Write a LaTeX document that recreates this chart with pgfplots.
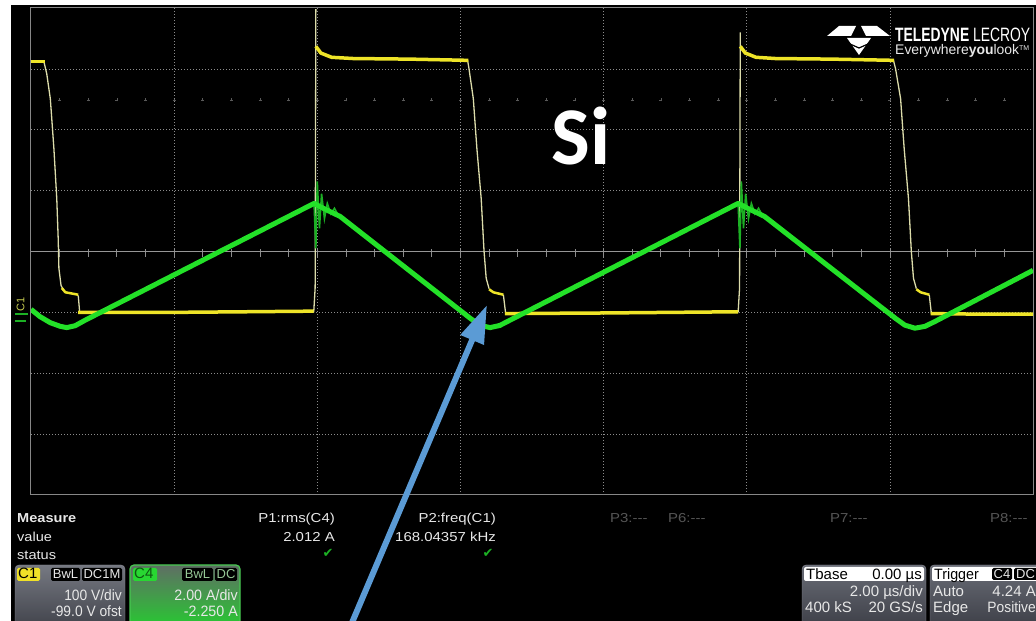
\documentclass[border=0pt]{standalone}
\usepackage{pgfplots}
\pgfplotsset{compat=1.18}
\usepackage{fontspec}
\setmainfont{Liberation Sans}
\newfontfamily\carlito{Carlito}
\newfontfamily\dejavu{DejaVu Sans}
\usetikzlibrary{arrows.meta}
\usepackage{graphicx}
\definecolor{scyel}{RGB}{238,228,40}
\definecolor{scyelpale}{RGB}{220,220,170}
\definecolor{scgrn}{RGB}{35,225,40}
\definecolor{scgrndk}{RGB}{28,176,36}
\definecolor{gridc}{RGB}{140,140,140}
\definecolor{gridd}{RGB}{90,90,90}
\definecolor{borderc}{RGB}{135,135,135}
\definecolor{centc}{RGB}{150,150,150}
\definecolor{arrowblue}{RGB}{91,155,213}
\definecolor{txt}{RGB}{232,232,232}
\definecolor{dimtxt}{RGB}{85,85,85}
\definecolor{markc}{RGB}{200,205,80}
\definecolor{boxtop}{RGB}{118,121,130}
\definecolor{boxbot}{RGB}{66,68,76}
\definecolor{boxedge}{RGB}{140,140,150}
\definecolor{gboxtop}{RGB}{95,110,100}
\definecolor{gboxbot}{RGB}{40,200,50}
\definecolor{gboxedge}{RGB}{70,200,80}
\definecolor{c1lab}{RGB}{240,225,40}
\definecolor{c4lab}{RGB}{40,215,50}
\definecolor{c4txt}{RGB}{150,200,150}
\definecolor{tboxtop}{RGB}{105,108,118}
\definecolor{tboxbot}{RGB}{62,64,72}
\newcommand\mt{\fontsize{13}{13}\selectfont}
\newcommand\bt{\fontsize{15}{15}\selectfont}
\begin{document}
\begin{tikzpicture}
\useasboundingbox (0,0) rectangle (1036pt,621pt);
\clip (0,0) rectangle (1036pt,621pt);
\fill[white] (0,0) rectangle (1036pt,621pt);
\fill[black] (11pt,-1pt) rectangle (1037pt,616pt);
% minor ticks on centre line and on upper row
\foreach \i in {1,...,34} {
  \draw[gridc, line width=0.8pt] ({31pt+\i*28.63pt},364pt) -- ({31pt+\i*28.63pt},372pt);
  \draw[gridd, line width=0.7pt] ({29.5pt+\i*28.63pt},521pt) -- ({32.5pt+\i*28.63pt},521pt);
  \draw[gridd, line width=0.7pt] ({31pt+\i*28.63pt},519.5pt) -- ({31pt+\i*28.63pt},522.5pt);
}
\begin{axis}[at={(31pt,126pt)},anchor=south west,width=1002pt,height=487pt,scale only axis,
  xmin=0,xmax=14,ymin=-4,ymax=4,
  xtick={2,4,...,12}, ytick={-3,-2,...,3}, xticklabels={}, yticklabels={}, major tick length=0pt,
  grid=major, major grid style={draw=gridc, line width=0.7pt, dash pattern=on 1pt off 2pt},
  axis line style={draw=borderc, line width=1pt}, clip=true]
\addplot[centc, line width=1pt] coordinates {(0,0) (14,0)};
% yellow (C1) edges, thin and pale
\addplot[scyelpale, line width=1.3pt] coordinates {(0.18,3.12) (0.22,2.92) (0.27,2.51) (0.32,1.69) (0.36,0.87) (0.38,0.21) (0.39,-0.28) (0.42,-0.56) (0.46,-0.64)};
\addplot[scyelpale, line width=1.3pt] coordinates {(0.66,-0.72) (0.68,-1.0)};
\addplot[scyelpale, line width=1.3pt] coordinates {(3.95,-1.0) (3.97,-0.6) (3.98,3.98)};
\addplot[scyelpale, line width=1.3pt] coordinates {(6.10,3.14) (6.12,3.0) (6.18,2.51) (6.23,1.69) (6.29,0.87) (6.33,0) (6.36,-0.44) (6.40,-0.61)};
\addplot[scyelpale, line width=1.3pt] coordinates {(6.60,-0.71) (6.63,-1.0)};
\addplot[scyelpale, line width=1.3pt] coordinates {(9.88,-1.0) (9.90,-0.6) (9.91,3.6)};
\addplot[scyelpale, line width=1.3pt] coordinates {(12.05,3.14) (12.08,3.0) (12.15,2.51) (12.20,1.69) (12.26,0.87) (12.30,0) (12.33,-0.44) (12.37,-0.61)};
\addplot[scyelpale, line width=1.3pt] coordinates {(12.55,-0.71) (12.58,-1.02)};
% yellow levels
\addplot[scyel, line width=3.5pt] coordinates {(0,3.12) (0.19,3.12)};
\addplot[scyel, line width=2.5pt] coordinates {(0.43,-0.60) (0.48,-0.67) (0.66,-0.71)};
\addplot[scyel, line width=3.5pt] coordinates {(0.66,-1.0) (2.0,-1.0) (3.0,-0.99) (3.95,-0.98)};
\addplot[scyel, line width=3.5pt] coordinates {(3.98,3.37) (4.05,3.26) (4.2,3.19) (4.5,3.17) (5.3,3.16) (6.11,3.14)};
\addplot[scyel, line width=2.5pt] coordinates {(6.40,-0.62) (6.46,-0.67) (6.60,-0.71)};
\addplot[scyel, line width=3.5pt] coordinates {(6.62,-1.02) (8.0,-1.01) (9.88,-0.99)};
\addplot[scyel, line width=3.5pt] coordinates {(9.91,3.37) (9.98,3.26) (10.13,3.19) (10.4,3.17) (11.2,3.16) (12.06,3.14)};
\addplot[scyel, line width=2.5pt] coordinates {(12.37,-0.62) (12.43,-0.67) (12.55,-0.71)};
\addplot[scyel, line width=3.5pt] coordinates {(12.57,-1.02) (13.3,-1.03) (14,-1.03)};
% green (C4) ringing
\addplot[scgrndk, line width=1.6pt] coordinates {(3.955,0.79) (3.98,0.05) (4.00,1.15) (4.03,0.38) (4.06,0.95) (4.10,0.54) (4.14,0.79) (4.19,0.62) (4.24,0.71) (4.30,0.58)};
\addplot[scgrndk, line width=1.6pt] coordinates {(9.88,0.79) (9.905,0.05) (9.925,1.15) (9.955,0.38) (9.985,0.95) (10.025,0.54) (10.065,0.79) (10.115,0.62) (10.165,0.71) (10.225,0.58)};
% green main
\addplot[scgrn, line width=5pt, line join=round] coordinates {
(0,-0.95) (0.126,-1.07) (0.27,-1.17) (0.41,-1.23) (0.50,-1.25) (0.615,-1.22) (0.755,-1.13)
(3.955,0.79) (4.10,0.70) (4.32,0.575)
(6.14,-1.10) (6.28,-1.215) (6.415,-1.25) (6.55,-1.215) (6.69,-1.13)
(9.88,0.79) (10.03,0.70) (10.25,0.575)
(12.08,-1.10) (12.21,-1.21) (12.35,-1.26) (12.49,-1.23) (12.63,-1.15)
(14,-0.31)};
\end{axis}
% channel marker
\node[rotate=90, font=\fontsize{11}{11}\selectfont, text=markc, inner sep=0] at (20.5pt,317pt) {C1};
\draw[scgrndk, line width=1.6pt] (15pt,307pt) -- (28pt,307pt);
\draw[scgrndk, line width=1.6pt] (15pt,300pt) -- (26pt,300pt);
% Si
\node[anchor=base, white, inner sep=0, font=\carlito\bfseries\fontsize{82}{82}\selectfont] at (581pt,456pt) {Si};
% logo
\fill[white] (827pt,585pt) -- (839pt,595pt) -- (856pt,595pt) -- (851pt,585pt) -- cycle;
\fill[white] (861pt,595pt) -- (877pt,595pt) -- (890pt,585pt) -- (866pt,585pt) -- cycle;
\fill[white] (847pt,583pt) -- (871pt,583pt) -- (859pt,566pt) -- cycle;
\draw[black, line width=1.2pt] (850pt,577pt) -- (859pt,573pt) -- (868pt,577pt);
\node[anchor=south west, inner sep=0, white] at (895pt,579pt) {\resizebox{135pt}{13.5pt}{\textbf{TELEDYNE} LECROY}};
\node[anchor=base west, inner sep=0, txt] at (895pt,566pt) {\resizebox{134pt}{!}{Everywhere\textbf{you}look{\fontsize{5}{5}\selectfont\raisebox{3pt}{TM}}}};
% measure area
\node[anchor=base west, inner sep=0, txt, font=\mt\bfseries] at (17pt,98pt) {\scalebox{1.12}[1]{Measure}};
\node[anchor=base west, inner sep=0, txt, font=\mt] at (17pt,79pt) {\scalebox{1.12}[1]{value}};
\node[anchor=base west, inner sep=0, txt, font=\mt] at (17pt,61pt) {\scalebox{1.12}[1]{status}};
\node[anchor=base east, inner sep=0, txt, font=\mt] at (335pt,98pt) {\scalebox{1.15}[1]{P1:rms(C4)}};
\node[anchor=base east, inner sep=0, txt, font=\mt] at (335pt,79pt) {\scalebox{1.15}[1]{2.012 A}};
\node[inner sep=0, text=scgrndk, font=\dejavu\fontsize{13}{13}\selectfont] at (328pt,68pt) {✔};
\node[anchor=base east, inner sep=0, txt, font=\mt] at (496pt,98pt) {\scalebox{1.15}[1]{P2:freq(C1)}};
\node[anchor=base east, inner sep=0, txt, font=\mt] at (496pt,79pt) {\scalebox{1.15}[1]{168.04357 kHz}};
\node[inner sep=0, text=scgrndk, font=\dejavu\fontsize{13}{13}\selectfont] at (488pt,68pt) {✔};
\node[anchor=base west, inner sep=0, dimtxt, font=\mt] at (610pt,98pt) {\scalebox{1.15}[1]{P3:-{}-{}-}};
\node[anchor=base west, inner sep=0, dimtxt, font=\mt] at (668pt,98pt) {\scalebox{1.15}[1]{P6:-{}-{}-}};
\node[anchor=base west, inner sep=0, dimtxt, font=\mt] at (830pt,98pt) {\scalebox{1.15}[1]{P7:-{}-{}-}};
\node[anchor=base west, inner sep=0, dimtxt, font=\mt] at (990pt,98pt) {\scalebox{1.15}[1]{P8:-{}-{}-}};
% C1 box
\shade[top color=boxtop, bottom color=boxbot, rounded corners=4pt, draw=boxedge] (15pt,-5pt) rectangle (125pt,56pt);
\fill[c1lab, rounded corners=1.5pt] (17pt,40pt) rectangle (40pt,53pt);
\node[anchor=base west, inner sep=0, black, font=\bt] at (18pt,42pt) {C1};
\fill[black, rounded corners=1.5pt] (51pt,40pt) rectangle (80pt,53pt);
\node[anchor=base, inner sep=0, txt, font=\mt] at (65.5pt,42pt) {BwL};
\fill[black, rounded corners=1.5pt] (82pt,40pt) rectangle (122pt,53pt);
\node[anchor=base, inner sep=0, txt, font=\mt] at (102pt,42pt) {DC1M};
\node[anchor=base east, inner sep=0, txt, font=\bt] at (122pt,20pt) {\scalebox{0.92}[1]{100 V/div}};
\node[anchor=base east, inner sep=0, txt, font=\bt] at (122pt,4pt) {\scalebox{0.92}[1]{-99.0 V ofst}};
% C4 box
\shade[top color=gboxtop, bottom color=gboxbot, rounded corners=4pt, draw=gboxedge, line width=1.2pt] (130pt,-5pt) rectangle (240pt,56pt);
\fill[c4lab, rounded corners=1.5pt] (133pt,40pt) rectangle (157pt,53pt);
\node[anchor=base west, inner sep=0, scgrndk!50!black, font=\bt] at (134pt,42pt) {C4};
\fill[black, rounded corners=1.5pt] (182pt,40pt) rectangle (213pt,53pt);
\node[anchor=base, inner sep=0, text=c4txt, font=\mt] at (197.5pt,42pt) {BwL};
\fill[black, rounded corners=1.5pt] (215pt,40pt) rectangle (237pt,53pt);
\node[anchor=base, inner sep=0, text=c4txt, font=\mt] at (226pt,42pt) {DC};
\node[anchor=base east, inner sep=0, txt, font=\bt] at (238pt,20pt) {\scalebox{0.95}[1]{2.00 A/div}};
\node[anchor=base east, inner sep=0, txt, font=\bt] at (238pt,4pt) {\scalebox{0.95}[1]{-2.250 A}};
% Tbase box
\shade[top color=tboxtop, bottom color=tboxbot, rounded corners=4pt, draw=boxedge] (802pt,-5pt) rectangle (926pt,56pt);
\fill[white, rounded corners=2pt] (804pt,40pt) rectangle (924pt,54pt);
\node[anchor=base west, inner sep=0, black, font=\bt] at (806pt,41pt) {Tbase};
\node[anchor=base east, inner sep=0, black, font=\bt] at (922pt,41pt) {0.00 µs};
\node[anchor=base east, inner sep=0, txt, font=\bt] at (923pt,24pt) {2.00 µs/div};
\node[anchor=base west, inner sep=0, txt, font=\bt] at (805pt,8pt) {400 kS};
\node[anchor=base east, inner sep=0, txt, font=\bt] at (923pt,8pt) {20 GS/s};
% Trigger box
\shade[top color=tboxtop, bottom color=tboxbot, rounded corners=4pt, draw=boxedge] (930pt,-5pt) rectangle (1045pt,56pt);
\fill[white, rounded corners=2pt] (932pt,40pt) rectangle (1045pt,54pt);
\node[anchor=base west, inner sep=0, black, font=\bt] at (934pt,41pt) {\scalebox{0.95}[1]{Trigger}};
\fill[black, rounded corners=1.5pt] (992pt,41pt) rectangle (1012pt,53pt);
\node[anchor=base, inner sep=0, txt, font=\mt] at (1002pt,42pt) {C4};
\fill[black, rounded corners=1.5pt] (1014pt,41pt) rectangle (1040pt,53pt);
\node[anchor=base west, inner sep=0, txt, font=\mt] at (1016pt,42pt) {DC};
\node[anchor=base west, inner sep=0, txt, font=\bt] at (933pt,24pt) {Auto};
\node[anchor=base east, inner sep=0, txt, font=\bt] at (1036pt,24pt) {4.24 A};
\node[anchor=base west, inner sep=0, txt, font=\bt] at (933pt,8pt) {Edge};
\node[anchor=base east, inner sep=0, txt, font=\bt] at (1036pt,8pt) {\scalebox{0.92}[1]{Positive}};
% blue arrow
\draw[arrowblue, line width=6pt, -{Triangle[width=24pt,length=38pt]}] (351pt,-4pt) -- (487pt,316pt);
\end{tikzpicture}
\end{document}
